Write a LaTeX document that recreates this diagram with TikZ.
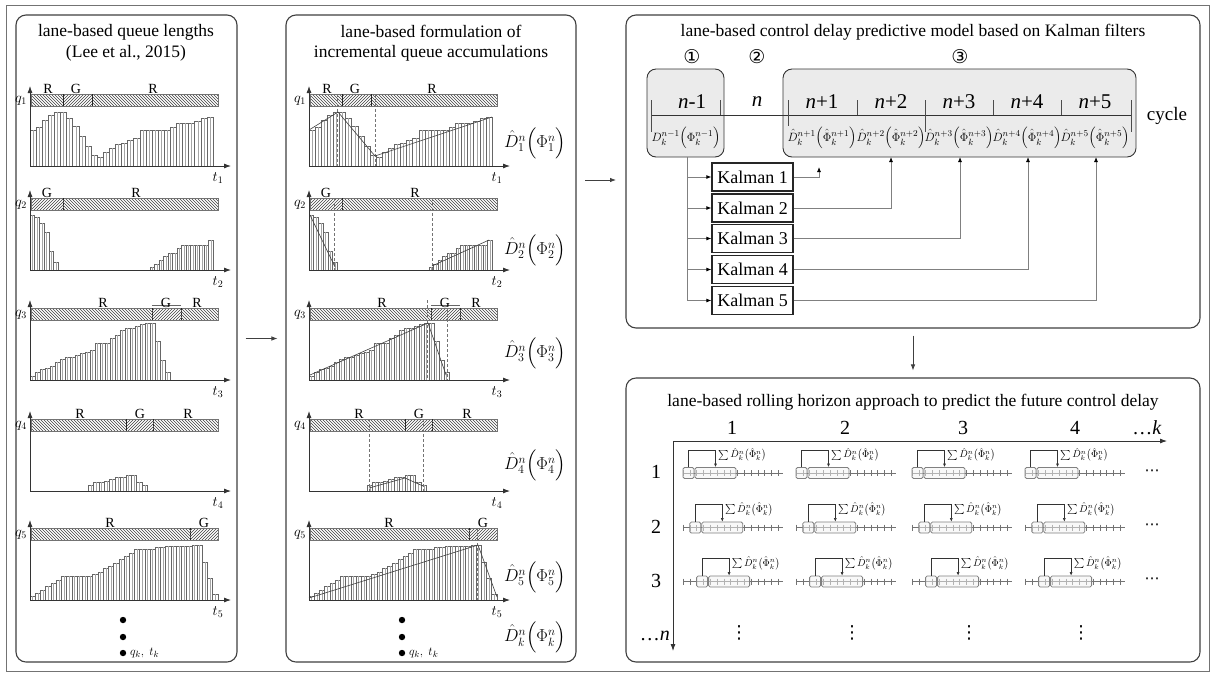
\documentclass[tikz,border=0pt]{standalone}
\usepackage{amsmath}
\usepackage{fontspec}
\setmainfont{Liberation Serif}
\newfontfamily\dejavu{DejaVu Sans}
\usetikzlibrary{patterns,arrows.meta,calc}
\newcommand\fsz[1]{\fontsize{#1}{#1}\selectfont}
\tikzset{
 panel/.style={draw=black!75,line width=1.1pt,rounded corners=10pt,inner sep=0pt},
 bar/.style={draw=black!60,line width=0.45pt,fill=white},
 barin/.style={draw=black!35,line width=0.35pt},
 sigR/.style={pattern=north west lines,pattern color=black!75,draw=black!55,line width=0.5pt},
 sigG/.style={pattern=north east lines,pattern color=black!75,draw=black!55,line width=0.5pt},
 sep/.style={draw=black!85,line width=0.7pt},
 dsep/.style={draw=black!85,line width=0.7pt,dash pattern=on 1.5pt off 1pt},
 ax/.style={draw=black!80,line width=0.8pt,-{Latex[length=7pt,width=5pt]}},
 lab/.style={font=\fsz{14},anchor=base,inner sep=0pt},
 qlab/.style={font=\fsz{14},inner sep=0pt},
 fitline/.style={draw=black!75,line width=0.6pt},
 dsh/.style={draw=black!55,line width=0.6pt,dash pattern=on 3pt off 2pt},
 title/.style={font=\fontsize{17.5}{20.5}\selectfont,align=center,inner sep=0pt},
 formula/.style={font=\fsz{17.5},inner sep=0pt},
 arr/.style={draw=black!75,line width=0.8pt,-{Latex[length=6pt,width=4.5pt]}},
 cellbox/.style={draw=black!80,line width=0.9pt,rounded corners=9pt,fill=black!8,inner sep=0pt},
 nlab/.style={font=\fsz{21},inner sep=0pt},
 cform/.style={font=\fsz{13},inner sep=0pt},
 kbox/.style={draw=black!85,line width=1.3pt,fill=white,font=\fsz{18},minimum width=81pt,minimum height=28pt,inner sep=0pt},
 gline/.style={draw=black!50,line width=0.8pt},
 conn/.style={draw=black!50,line width=0.8pt,-{Latex[length=5pt,width=4pt,color=black]}},
 tl/.style={draw=black!55,line width=0.5pt},
 sbox/.style={draw=black!50,line width=0.8pt,rounded corners=1.5pt,inner sep=0pt,fill=black!5,fill opacity=0.5},
 brk/.style={draw=black!80,line width=0.6pt,-{Latex[length=3.5pt,width=3pt]}},
 sumlab/.style={font=\fsz{10},inner sep=0pt},
 big/.style={font=\fsz{20},inner sep=0pt},
 circ/.style={font=\dejavu\fsz{19},inner sep=0pt},
 dots/.style={font=\dejavu\fsz{15},inner sep=0pt}
}
% bars: #1 x0, #2 baseline, #3 bar width, #4 heights
\newcommand\barchart[4]{%
 \foreach \h [count=\i from 0] in {#4}{%
  \draw[bar] ({#1+\i*#3},#2) rectangle ({#1+(\i+1)*#3},{#2-\h});
  \draw[barin] ({#1+(\i+0.5)*#3},#2) -- ({#1+(\i+0.5)*#3},{#2-\h});
 }}
% axes: #1 baseline, #2 index, #3 suffix
\newcommand\axes[3]{%
 \draw[ax] (30,#1) -- (231,#1);
 \draw[ax] (30,#1) -- (30,{#1-80});
 \node[qlab] (q#2#3) at (21,{#1-65}) {$q_{#2}$};
 \node[qlab] (t#2#3) at (218,{#1+12}) {$t_{#2}$};
}
% one set of five charts; #1 = suffix
\newcommand\charts[1]{%
 % chart 1
 \barchart{30}{166}{6.1}{36,39,46,51,54,54,48,40,30,20,11,9,14,18,22,23,26,28,36,36,36,36,36,39,43,43,43,45,48,49}
 \draw[sigR] (31,94) rectangle (63,106);
 \draw[sigG] (63,94) rectangle (92,106);
 \draw[sigR] (92,94) rectangle (218,106);
 \draw[sep] (63,94) -- (63,106); \draw[sep] (92,94) -- (92,106);
 \node[lab] (a1#1) at (48,93.5) {R};
 \node[lab] (a2#1) at (76,93.5) {G};
 \node[lab] (a3#1) at (153,93.5) {R};
 \axes{166}{1}{#1}
 % chart 2
 \barchart{30}{270}{4.7}{55,53,47,38,19,8}
 \barchart{150}{270}{4.5}{3,6,10,14,17,17,22,25,25,25,25,25,25,30}
 \draw[sigG] (31,198) rectangle (63,210);
 \draw[sigR] (63,198) rectangle (218,210);
 \draw[dsep] (63,198) -- (63,210);
 \node[lab] (b1#1) at (47,197.5) {G};
 \node[lab] (b2#1) at (136,197.5) {R};
 \axes{270}{2}{#1}
 % chart 3
 \barchart{30}{380}{5}{4,8,11,12,14,18,21,23,23,25,27,28,30,37,37,37,42,45,50,52,52,54,56,57,57,39,20,8}
 \draw[sigR] (31,308) rectangle (152,320);
 \draw[sigG] (152,308) rectangle (181,320);
 \draw[sigR] (181,308) rectangle (218,320);
 \draw[dsep] (152,308) -- (152,320); \draw[dsep] (181,308) -- (181,320);
 \draw[draw=black!60,line width=0.5pt] (152,305) -- (181,305);
 \node[lab] (c1#1) at (103,307.5) {R};
 \node[lab] (c2#1) at (166,307.5) {G};
 \node[lab] (c3#1) at (197,307.5) {R};
 \axes{380}{3}{#1}
 % chart 4
 \barchart{88}{491}{5.4}{6,9,9,10,12,14,14,16,16,9,6}
 \draw[sigR] (31,419) rectangle (126,431);
 \draw[sigG] (126,419) rectangle (153,431);
 \draw[sigR] (153,419) rectangle (218,431);
 \draw[sep] (126,419) -- (126,431); \draw[dsep] (153,419) -- (153,431);
 \node[lab] (d1#1) at (80,418.5) {R};
 \node[lab] (d2#1) at (140,418.5) {G};
 \node[lab] (d3#1) at (188,418.5) {R};
 \axes{491}{4}{#1}
 % chart 5
 \barchart{30}{600}{5.22}{4,7,10,14,17,20,24,24,24,24,24,24,26,28,32,34,37,41,44,47,51,51,51,51,53,53,54,54,54,54,54,55,55,38,22,6}
 \draw[sigR] (31,528) rectangle (190,540);
 \draw[sigG] (190,528) rectangle (218,540);
 \draw[dsep] (190,528) -- (190,540);
 \node[lab] (e1#1) at (110,527.5) {R};
 \node[lab] (e2#1) at (204,527.5) {G};
 \axes{600}{5}{#1}
 % dots
 \fill (123,620) circle (3.2);
 \fill (123,637) circle (3.2);
 \fill (123,653) circle (3.2);
 \node[qlab,anchor=west,font=\fsz{13}] (qk#1) at (130,653) {$q_k,\ t_k$};
}
\begin{document}
\begin{tikzpicture}[x=1pt,y=-1pt]
\useasboundingbox (0,0) rectangle (1214,673);
\fill[white] (0,0) rectangle (1214,673);
\draw[black!55,line width=0.8pt] (6,5) rectangle (1209,671);

% panels
\node[panel,minimum width=221pt,minimum height=647pt] (P1) at (126.5,338.5) {};
\node[panel,minimum width=290pt,minimum height=647pt] (P2) at (431,338.5) {};
\node[panel,minimum width=574pt,minimum height=313pt] (P3) at (913,171.5) {};
\node[panel,minimum width=574pt,minimum height=284pt] (P4) at (913,520) {};

% inter-panel arrows
\draw[arr,shorten <=8pt,shorten >=8pt] (P1.east) -- (P2.west);
\coordinate (m1) at (585,180);
\coordinate (m2) at (616,180);
\draw[arr] (m1) -- (m2);
\draw[arr,shorten <=7pt,shorten >=7pt] (P3.south) -- (P4.north);

% titles
\node[title] (T1) at (126,43) {lane-based queue lengths\\(Lee et al., 2015)};
\node[title] (T2) at (431,43) {lane-based formulation of\\incremental queue accumulations};
\node[title] (T3) at (913,32) {lane-based control delay predictive model based on Kalman filters};
\node[title] (T4) at (913,402) {lane-based rolling horizon approach to predict the future control delay};

% left charts
\charts{L}
% middle charts
\begin{scope}[xshift=279pt]
\charts{M}
% fitted lines and dashed markers
\draw[dsh] (58,94) -- (58,166); \draw[dsh] (96,94) -- (96,166);
\draw[fitline] (30,130) -- (59,112) -- (96,156) -- (213,117);
\draw[dsh] (55,198) -- (55,270); \draw[dsh] (153,198) -- (153,270);
\draw[fitline] (31,215) -- (56,267);
\draw[fitline] (153,266) -- (210,240);
\draw[dsh] (148,300) -- (148,380); \draw[dsh] (168,309) -- (168,380);
\draw[fitline] (31,375) -- (149,323) -- (167,375);
\draw[dsh] (90,419) -- (90,491); \draw[dsh] (144,419) -- (144,491);
\draw[fitline] (90,488) -- (126,478) -- (144,486);
\draw[dsh] (198,528) -- (198,600);
\draw[fitline] (30,598) -- (199,545) -- (218,597);
\end{scope}
\node[formula] (F1) at (535,143) {$\hat D_1^n\Bigl(\Phi_1^n\Bigr)$};
\node[formula] (F2) at (535,250) {$\hat D_2^n\Bigl(\Phi_2^n\Bigr)$};
\node[formula] (F3) at (535,353) {$\hat D_3^n\Bigl(\Phi_3^n\Bigr)$};
\node[formula] (F4) at (535,465) {$\hat D_4^n\Bigl(\Phi_4^n\Bigr)$};
\node[formula] (F5) at (535,577) {$\hat D_5^n\Bigl(\Phi_5^n\Bigr)$};
\node[formula] (Fk) at (535,637) {$\hat D_k^n\Bigl(\Phi_k^n\Bigr)$};

% ---- Kalman panel ----
\node[circ] (c1) at (692,57) {①};
\node[circ] (c2) at (757,57) {②};
\node[circ] (c3) at (960,57) {③};
\node[cellbox,minimum width=77pt,minimum height=88pt] (B1) at (685.5,113) {};
\node[cellbox,minimum width=353pt,minimum height=88pt] (B3) at (959.5,113) {};
\draw[draw=black!80,line width=0.8pt] (651,115) -- (1132,115);
\foreach \x/\lo in {651/132,720/115,788/126,857/115,925/132,993/115,1061/115,1131/132}
  \draw[draw=black!70,line width=0.6pt] (\x,100) -- (\x,\lo);
\node[nlab] (n0) at (692,102) {\textit{n}-1};
\node[nlab] (n1) at (757,102) {\textit{n}};
\node[nlab] (n2) at (822,102) {\textit{n}+1};
\node[nlab] (n3) at (891,102) {\textit{n}+2};
\node[nlab] (n4) at (959,102) {\textit{n}+3};
\node[nlab] (n5) at (1027,102) {\textit{n}+4};
\node[nlab] (n6) at (1095,102) {\textit{n}+5};
\node[font=\fsz{19},inner sep=0pt] (cyc) at (1167,116) {cycle};
\node[cform] (g0) at (686,138) {$D_k^{n-1}\Bigl(\Phi_k^{n-1}\Bigr)$};
\node[cform] (g1) at (822,138) {$\hat D_k^{n+1}\Bigl(\hat\Phi_k^{n+1}\Bigr)$};
\node[cform] (g2) at (891,138) {$\hat D_k^{n+2}\Bigl(\hat\Phi_k^{n+2}\Bigr)$};
\node[cform] (g3) at (959,138) {$\hat D_k^{n+3}\Bigl(\hat\Phi_k^{n+3}\Bigr)$};
\node[cform] (g4) at (1027,138) {$\hat D_k^{n+4}\Bigl(\hat\Phi_k^{n+4}\Bigr)$};
\node[cform] (g5) at (1095,138) {$\hat D_k^{n+5}\Bigl(\hat\Phi_k^{n+5}\Bigr)$};

\node[kbox] (K1) at (752.5,177) {Kalman 1};
\node[kbox] (K2) at (752.5,208) {Kalman 2};
\node[kbox] (K3) at (752.5,238.5) {Kalman 3};
\node[kbox] (K4) at (752.5,269.5) {Kalman 4};
\node[kbox] (K5) at (752.5,300.5) {Kalman 5};
\coordinate (tr) at (687,157);
\draw[gline] (tr) -- (tr |- K5.west);
\foreach \k in {1,...,5} \draw[conn] (tr |- K\k.west) -- (K\k.west);
\coordinate (o1) at (819,167);
\coordinate (o2) at (891,157);
\coordinate (o3) at (960,157);
\coordinate (o4) at (1028,157);
\coordinate (o5) at (1096,157);
\foreach \k in {1,...,5} \draw[conn] (K\k.east) -| (o\k);

% ---- rolling horizon panel ----
\draw[ax] (673,441) -- (1167,441);
\draw[ax] (673,441) -- (673,651);
\node[big] (h1) at (732,428) {1};
\node[big] (h2) at (845,428) {2};
\node[big] (h3) at (963,428) {3};
\node[big] (h4) at (1075,428) {4};
\node[big] (hk) at (1147,428) {\ldots\textit{k}};
\node[big] (v1) at (656,472) {1};
\node[big] (v2) at (656,527) {2};
\node[big] (v3) at (656,581) {3};
\node[big,anchor=east] (vn) at (670,636) {\ldots\textit{n}};

\newcommand\rcell[4]{%
 \draw[tl] (#1,#2) -- ({#1+100},#2);
 \foreach \j in {0,...,14} \draw[tl] ({#1+\j*6.8},{#2-3}) -- ({#1+\j*6.8},{#2+3});
 \node[sbox,minimum width=11pt,minimum height=11pt] (s#4) at ({#1+#3*6.8+5.5},#2) {};
 \node[sbox,minimum width=41pt,minimum height=11pt] (b#4) at ({#1+#3*6.8+32.5},#2) {};
 \coordinate (k#4) at ({#1+#3*6.8+5.5},{#2-23});
 \draw[brk] (s#4.north) -- (k#4) -| (b#4.north);
 \node[sumlab,anchor=west] (l#4) at ({#1+#3*6.8+35},{#2-18}) {$\sum\hat D_k^n\bigl(\hat\Phi_k^n\bigr)$};
}
\foreach \c/\xo in {1/683,2/796,3/912,4/1025}{
  \rcell{\xo}{473}{0}{a\c}
  \rcell{\xo}{527.5}{1}{b\c}
  \rcell{\xo}{581.5}{2}{c\c}
}
\node[dots] (e1) at (1152,473) {⋯};
\node[dots] (e2) at (1152,527) {⋯};
\node[dots] (e3) at (1152,581) {⋯};
\node[dots,font=\dejavu\fsz{18}] (w1) at (739,633) {⋮};
\node[dots,font=\dejavu\fsz{18}] (w2) at (852,633) {⋮};
\node[dots,font=\dejavu\fsz{18}] (w3) at (969,633) {⋮};
\node[dots,font=\dejavu\fsz{18}] (w4) at (1081,633) {⋮};
\end{tikzpicture}
\end{document}
